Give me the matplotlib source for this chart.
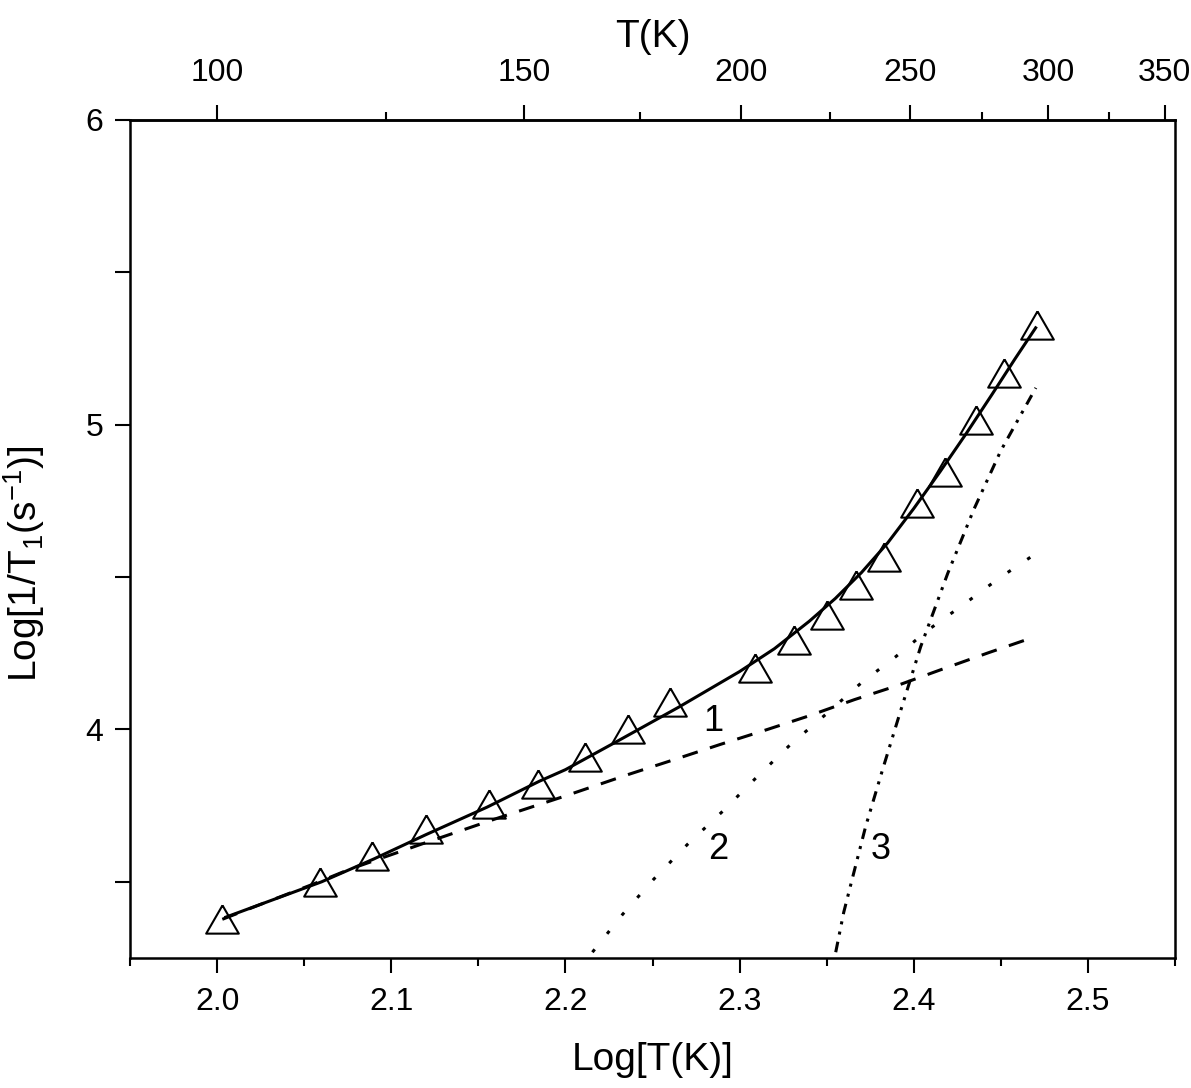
import numpy as np
import matplotlib.pyplot as plt
from matplotlib.ticker import MultipleLocator, FixedLocator

plt.rcParams['font.family'] = ['Liberation Sans', 'DejaVu Sans']
plt.rcParams['mathtext.default'] = 'regular'

# measured points: Log[T(K)] vs Log[1/T1]
log_t = [2.003, 2.059, 2.089, 2.120, 2.156, 2.184, 2.211, 2.236, 2.260, 2.309,
         2.331, 2.350, 2.367, 2.383, 2.402, 2.418, 2.436, 2.452, 2.471]
log_rate = [3.377, 3.498, 3.584, 3.672, 3.754, 3.820, 3.911, 4.000, 4.089, 4.203,
            4.295, 4.377, 4.475, 4.567, 4.744, 4.846, 5.016, 5.170, 5.328]

# total fit (solid)
fit_x = [2.005, 2.06, 2.09, 2.12, 2.155, 2.185, 2.20, 2.23, 2.265, 2.30, 2.32,
         2.34, 2.355, 2.37, 2.385, 2.40, 2.415, 2.43, 2.445, 2.458, 2.47]
fit_y = [3.384, 3.50, 3.575, 3.655, 3.745, 3.83, 3.868, 3.962, 4.073, 4.190, 4.265,
         4.355, 4.430, 4.515, 4.612, 4.725, 4.845, 4.97, 5.10, 5.215, 5.318]

# contribution 1 (dashed)
c1_x = [2.003, 2.025, 2.055, 2.076, 2.117, 2.159, 2.199, 2.236, 2.263, 2.289,
        2.316, 2.339, 2.366, 2.389, 2.416, 2.443, 2.470]
c1_y = [3.377, 3.426, 3.492, 3.541, 3.623, 3.705, 3.780, 3.852, 3.902, 3.951,
        4.000, 4.043, 4.098, 4.141, 4.197, 4.252, 4.305]

# contribution 2 (dotted)
c2_x = [2.2155, 2.2328, 2.2506, 2.2701, 2.2902, 2.3103, 2.3293, 2.3494, 2.3695,
        2.3897, 2.4086, 2.4293, 2.4494, 2.4701]
c2_y = [3.269, 3.393, 3.508, 3.623, 3.731, 3.846, 3.951, 4.049, 4.151,
        4.239, 4.328, 4.413, 4.498, 4.577]

# contribution 3 (dash-dot-dot)
c3_x = [2.3552, 2.3598, 2.3638, 2.3724, 2.3822, 2.3925, 2.4040, 2.4195,
        2.4345, 2.4500, 2.4701]
c3_y = [3.269, 3.400, 3.490, 3.682, 3.870, 4.062, 4.272, 4.512,
        4.722, 4.915, 5.121]

labels = ['1', '2', '3']
label_x = [2.285, 2.288, 2.381]
label_y = [4.026, 3.607, 3.607]

top_major = [100, 150, 200, 250, 300, 350]
top_minor = [125, 175, 225, 275, 325]

fig = plt.figure(figsize=(11.91, 10.88), dpi=100)
ax = fig.add_axes([130 / 1191, 1 - 958 / 1088, 1045 / 1191, 838 / 1088])

lw = 2.2
ax.plot(c1_x, c1_y, color='black', lw=lw, linestyle=(0, (5.2, 4.2)))
ax.plot(c2_x, c2_y, color='black', lw=lw, linestyle=(0, (1.2, 6.5)))
ax.plot(c3_x, c3_y, color='black', lw=lw, linestyle=(0, (3.5, 2.4, 1, 2.4, 1, 2.4)))
ax.plot(fit_x, fit_y, color='black', lw=lw)

tri = [(0, 0.75), (-0.866, -0.75), (0.866, -0.75), (0, 0.75)]
ax.plot(log_t, log_rate, linestyle='none', marker=tri, markersize=23.5,
        markerfacecolor='none', markeredgecolor='black', markeredgewidth=1.5)

for s, x, y in zip(labels, label_x, label_y):
    ax.text(x, y, s, fontsize=26, ha='center', va='center')

ax.set_xlim(1.95, 2.55)
ax.set_ylim(3.25, 6.0)
ax.xaxis.set_major_locator(MultipleLocator(0.1))
ax.xaxis.set_minor_locator(MultipleLocator(0.05))
ax.yaxis.set_major_locator(FixedLocator([4, 5, 6]))
ax.yaxis.set_minor_locator(FixedLocator([3.5, 4.5, 5.5]))
ax.xaxis.set_major_formatter(plt.FuncFormatter(lambda v, p: f'{v:.1f}'))

ax.tick_params(axis='x', which='major', direction='out', length=11, width=1.5,
               labelsize=23, pad=10)
ax.tick_params(axis='x', which='minor', direction='out', length=5.5, width=1.5)
ax.tick_params(axis='y', which='both', direction='out', length=11, width=1.5,
               labelsize=23, pad=8)
for sp in ax.spines.values():
    sp.set_linewidth(1.8)

ax.set_xlabel('Log[T(K)]', fontsize=28, labelpad=18)
ax.set_ylabel('Log[1/T$_1$(s$^{-1}$)]', fontsize=28)
ax.yaxis.set_label_coords(-0.079, 0.47)

top = ax.secondary_xaxis('top', functions=(lambda x: 10 ** x, np.log10))
top.xaxis.set_major_locator(FixedLocator(top_major))
top.xaxis.set_minor_locator(FixedLocator(top_minor))
top.xaxis.set_major_formatter(plt.FuncFormatter(lambda v, p: f'{v:.0f}'))
top.tick_params(axis='x', which='major', direction='out', length=11, width=1.5,
                labelsize=23, pad=12)
top.tick_params(axis='x', which='minor', direction='out', length=5.5, width=1.5)
top.spines['top'].set_linewidth(1.8)
top.set_xlabel('T(K)', fontsize=28, labelpad=8)

fig.savefig('out.png', dpi=100)
